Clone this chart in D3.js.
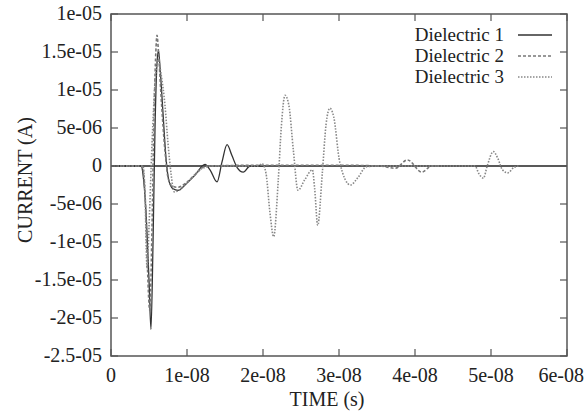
<!doctype html>
<html>
<head>
<script src="https://d3js.org/d3.v7.min.js"></script>
<style>
  body { margin: 0; background: #fff; }
  svg text { font-family: "Liberation Serif", "DejaVu Serif", serif; font-size: 20px; fill: #222; }
</style>
</head>
<body>
<div id="chart"></div>
<script>
// time in ns, current in uA
var d1Time    = [0, 4.0, 4.2, 4.6, 5.0, 5.26, 5.53, 5.79, 6.05, 6.25, 6.45, 6.84, 7.24, 7.63, 8.16, 8.82, 9.74, 11.05, 12.37, 13.03, 13.95, 14.6, 15.27, 15.9, 16.6, 17.4, 18.3, 20.0];
var d1Current = [0, 0, -1, -6, -15, -21.5, -10, 5, 13.5, 15.2, 13, 7, 1, -2, -3.0, -3.2, -2.5, -1.2, 0.2, -0.5, -2.1, 0.5, 2.8, 1.4, -0.2, -0.8, 0, 0];

var d2Time    = [0, 4.1, 4.5, 4.75, 5.1, 5.4, 5.65, 5.9, 6.05, 6.25, 6.6, 7.1, 7.5, 8.0, 8.8, 9.9, 11.2, 12.5, 20, 30, 35.4, 37.4, 39.0, 40.9, 42.2, 43.5];
var d2Current = [0, 0, -4, -12, -19, -8, 6, 15, 17.2, 15, 9, 2, -1.5, -2.6, -2.8, -2.2, -1, 0, 0.1, 0.1, 0, -0.3, 0.8, -0.8, 0, 0];

var d3Time    = [0, 4.2, 4.45, 4.75, 5.0, 5.4, 5.8, 6.2, 6.6, 7.1, 7.5, 7.9, 8.3, 8.8, 9.6, 10.7, 11.7, 13.3, 19.3, 19.9, 20.4, 20.9, 21.4, 22.0, 22.4, 22.9, 23.4, 24.0, 24.6, 25.5, 26.5, 26.8, 27.2, 27.8, 28.3, 28.8, 29.3, 30.1, 31.5, 32.5, 33.6, 35.4, 47.9, 48.4, 49.0, 49.5, 50.3, 50.9, 51.5, 52.2, 53.0, 53.6];
var d3Current = [0, 0, -3, -13.5, -8, 3, 11, 14, 12, 8, 3, -1, -3.4, -3.3, -2.6, -1.5, -0.5, 0, 0, 0.3, -1, -6, -9.3, -2, 5, 9.3, 8, 2, -3.2, -1.8, -0.5, -3, -7.8, -1, 5.5, 7.6, 6.5, 0.5, -2.5, -1.5, -0.1, 0, 0, -1, -1.6, 0, 1.9, 1, -0.5, -0.9, -0.2, 0];

var seriesNames = ["Dielectric 1", "Dielectric 2", "Dielectric 3"];
var xTicks = [0, 10, 20, 30, 40, 50, 60];
var xTickLabels = ["0", "1e-08", "2e-08", "3e-08", "4e-08", "5e-08", "6e-08"];
var yTicks = [-25, -20, -15, -10, -5, 0, 5, 10, 15, 20];
var yTickLabels = ["-2.5-05", "-2e-05", "-1.5e-05", "-1e-05", "-5e-06", "0", "5e-06", "1e-05", "1.5e-05", "1e-05"];

var width = 588, height = 414;
var plotLeft = 111, plotRight = 567, plotTop = 14, plotBottom = 356;

var x = d3.scaleLinear().domain([0, 60]).range([plotLeft, plotRight]);
var y = d3.scaleLinear().domain([-25, 20]).range([plotBottom, plotTop]);

var svg = d3.select("#chart").append("svg")
  .attr("width", width)
  .attr("height", height)
  .attr("font-family", "Liberation Serif, DejaVu Serif, serif");

// zero axis
svg.append("line")
  .attr("x1", plotLeft).attr("x2", plotRight)
  .attr("y1", y(0)).attr("y2", y(0))
  .attr("stroke", "#222").attr("stroke-width", 1.6);

// curves
var styles = [
  { stroke: "#333", width: 1.3, dash: null },
  { stroke: "#777", width: 1.6, dash: "3,2" },
  { stroke: "#888", width: 1.6, dash: "1.5,1.5" }
];
var series = [
  d1Time.map(function(t, i) { return [t, d1Current[i]]; }),
  d2Time.map(function(t, i) { return [t, d2Current[i]]; }),
  d3Time.map(function(t, i) { return [t, d3Current[i]]; })
];

var line = d3.line()
  .x(function(d) { return x(d[0]); })
  .y(function(d) { return y(d[1]); })
  .curve(d3.curveMonotoneX);

svg.selectAll("path.curve")
  .data(series)
  .enter()
  .append("path")
  .attr("class", "curve")
  .attr("d", line)
  .attr("fill", "none")
  .attr("stroke", function(d, i) { return styles[i].stroke; })
  .attr("stroke-width", function(d, i) { return styles[i].width; })
  .attr("stroke-dasharray", function(d, i) { return styles[i].dash; });

// frame
svg.append("rect")
  .attr("x", plotLeft).attr("y", plotTop)
  .attr("width", plotRight - plotLeft).attr("height", plotBottom - plotTop)
  .attr("fill", "none").attr("stroke", "#555").attr("stroke-width", 1.5);

// inward ticks, mirrored
var tickLen = 7;
xTicks.forEach(function(t) {
  svg.append("line").attr("x1", x(t)).attr("x2", x(t))
    .attr("y1", plotBottom).attr("y2", plotBottom - tickLen)
    .attr("stroke", "#555").attr("stroke-width", 1.2);
  svg.append("line").attr("x1", x(t)).attr("x2", x(t))
    .attr("y1", plotTop).attr("y2", plotTop + tickLen)
    .attr("stroke", "#555").attr("stroke-width", 1.2);
});
yTicks.forEach(function(t) {
  svg.append("line").attr("x1", plotLeft).attr("x2", plotLeft + tickLen)
    .attr("y1", y(t)).attr("y2", y(t))
    .attr("stroke", "#555").attr("stroke-width", 1.2);
  svg.append("line").attr("x1", plotRight).attr("x2", plotRight - tickLen)
    .attr("y1", y(t)).attr("y2", y(t))
    .attr("stroke", "#555").attr("stroke-width", 1.2);
});

// tick labels (last one kept inside the page)
svg.selectAll("text.xlab")
  .data(xTicks)
  .enter()
  .append("text")
  .attr("class", "xlab")
  .attr("x", function(d) { return x(d); })
  .attr("y", 382)
  .attr("text-anchor", "middle")
  .text(function(d, i) { return xTickLabels[i]; })
  .each(function() {
    var w = this.getComputedTextLength();
    var cx = +d3.select(this).attr("x");
    if (cx + w / 2 > width - 4) d3.select(this).attr("x", width - 4 - w / 2);
  });

svg.selectAll("text.ylab")
  .data(yTicks)
  .enter()
  .append("text")
  .attr("class", "ylab")
  .attr("x", 102)
  .attr("y", function(d) { return y(d) + 6; })
  .attr("text-anchor", "end")
  .text(function(d, i) { return yTickLabels[i]; });

// axis titles
svg.append("text")
  .attr("x", 327).attr("y", 406)
  .attr("text-anchor", "middle")
  .text("TIME (s)");

svg.append("text")
  .attr("transform", "translate(32,180) rotate(-90)")
  .attr("text-anchor", "middle")
  .text("CURRENT (A)");

// legend
seriesNames.forEach(function(name, i) {
  var cy = 35 + i * 21;
  svg.append("text")
    .attr("x", 504).attr("y", cy + 6)
    .attr("text-anchor", "end")
    .style("font-size", "19px")
    .text(name);
  svg.append("line")
    .attr("x1", 518).attr("x2", 552)
    .attr("y1", cy).attr("y2", cy)
    .attr("stroke", styles[i].stroke)
    .attr("stroke-width", styles[i].width)
    .attr("stroke-dasharray", styles[i].dash);
});
</script>
</body>
</html>
